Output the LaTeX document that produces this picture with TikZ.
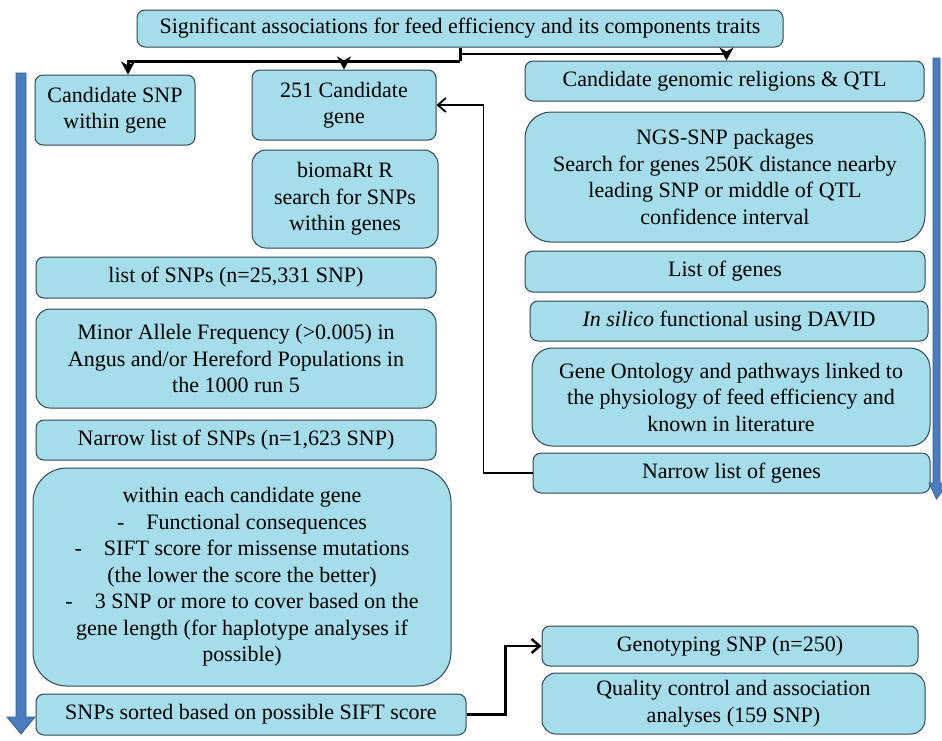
\documentclass[tikz,border=0pt]{standalone}
\usepackage{fontspec}
\setmainfont{Liberation Serif}
\usetikzlibrary{arrows.meta,positioning}
\definecolor{boxfill}{HTML}{A6DDEB}
\definecolor{boxline}{HTML}{2E464D}
\definecolor{flowblue}{HTML}{4A7CC0}

\begin{document}
\begin{tikzpicture}[
    x=1pt, y=-1pt,
    box/.style={rectangle, rounded corners=8pt, draw=boxline, line width=1pt, fill=boxfill, align=center, inner sep=0pt, font=\fontsize{22}{26.5}\selectfont},
    midbox/.style={box, rounded corners=14pt},
    bigbox/.style={box, rounded corners=26pt},
    link/.style={-{Straight Barb[length=8pt,width=14pt]}, line width=2.5pt},
    down/.style={-{Stealth[length=13pt,width=14pt,inset=4pt]}, line width=3pt},
    flow/.style={fill=flowblue, draw=flowblue!75!black, line width=0.8pt}
  ]
    \useasboundingbox (0,0) rectangle (942,740);

    % Top: traits
    \node[box, minimum width=646pt, minimum height=37pt] (title) at (460,28.5) {Significant associations for feed efficiency and its components traits};

    % Left column: SNP route
    \node[box, minimum width=160pt, minimum height=70pt] (snp) at (115,110) {Candidate SNP\\ within gene};
    \node[box, minimum width=184pt, minimum height=70pt] (gene) at (344,105) {251 Candidate\\ gene};
    \node[midbox, minimum width=186pt, minimum height=98pt] (biomart) at (345,199) {biomaRt R\\ search for SNPs\\ within genes};
    \node[box, minimum width=400pt, minimum height=41pt] (snplist) at (236,277.5) {list of SNPs (n=25,331 SNP)};
    \node[midbox, minimum width=400pt, minimum height=99pt] (maf) at (236,358.5) {Minor Allele Frequency (>0.005) in\\ Angus and/or Hereford Populations in\\ the 1000 run 5};
    \node[box, minimum width=400pt, minimum height=40pt] (narrows) at (236,440) {Narrow list of SNPs (n=1,623 SNP)};
    \node[bigbox, rounded corners=34pt, minimum width=418pt, minimum height=218pt] (within) at (242,577) {within each candidate gene\\
      -\quad Functional consequences\\
      -\quad SIFT score for missense mutations\\
      (the lower the score the better)\\
      -\quad 3 SNP or more to cover based on the\\
      gene length (for haplotype analyses if\\
      possible)};
    \node[box, minimum width=430pt, minimum height=41pt] (sorted) at (251,714.5) {SNPs sorted based on possible SIFT score};

    % Right column: gene route
    \node[box, minimum width=399pt, minimum height=40pt] (region) at (724.5,81) {Candidate genomic religions \& QTL};
    \node[bigbox, minimum width=400pt, minimum height=130pt] (ngs) at (725,177) {NGS-SNP packages\\ Search for genes 250K distance nearby\\ leading SNP or middle of QTL\\ confidence interval};
    \node[box, minimum width=400pt, minimum height=41pt] (genes) at (725,271.5) {List of genes};
    \node[box, minimum width=398pt, minimum height=40pt] (david) at (729,321) {\textit{In silico} functional using DAVID};
    \node[midbox, rounded corners=20pt, minimum width=398pt, minimum height=98pt] (onto) at (731,397) {Gene Ontology and pathways linked to\\ the physiology of feed efficiency and\\ known in literature};
    \node[box, minimum width=397pt, minimum height=40pt] (narrowg) at (731.5,473) {Narrow list of genes};

    % Bottom right: genotyping
    \node[box, minimum width=376pt, minimum height=40pt] (geno) at (730,646) {Genotyping SNP (n=250)};
    \node[midbox, minimum width=383pt, minimum height=61pt] (qc) at (733.5,703.5) {Quality control and association\\ analyses (159 SNP)};

    % Connectors from the top box
    \coordinate (jl) at (460,61);
    \coordinate (jr) at (460,54);
    \draw[line width=3pt] (title.south) -- (jl);
    \draw[down] (jl) -| ([xshift=13pt]snp.north);
    \draw[down] (jl) -| (gene.north);
    \draw[down, line width=1.8pt] (jr) -| ([xshift=2pt]region.north);

    % Feedback and genotyping
    \draw[link, line width=1.8pt] (narrowg.west) -- ++(-49,0) |- (gene.east);
    \draw[link] (sorted.east) -- ++(39,0) |- (geno.west);

    % Blue flow arrows
    \draw[flow] (16,73) -- (26,73) -- (26,717) -- (35,717) -- (21,734) -- (7,717) -- (16,717) -- cycle;
    \draw[flow] (933,58) -- (940,58) -- (940,483) -- (948,483) -- (936.5,499) -- (929,483) -- (933,483) -- cycle;
  \end{tikzpicture}
\end{document}
